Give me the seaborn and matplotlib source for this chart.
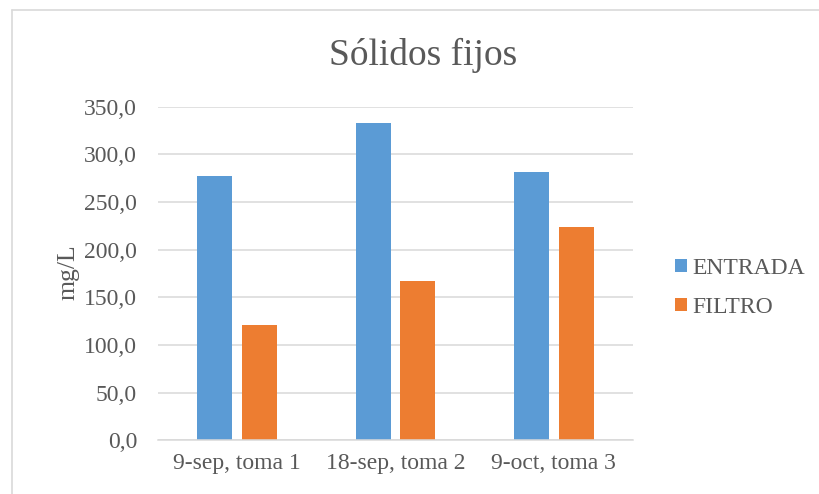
import matplotlib
matplotlib.use("Agg")
import matplotlib.pyplot as plt
from matplotlib.ticker import FuncFormatter
from matplotlib.lines import Line2D
import seaborn as sns
import pandas as pd

categories = ["9-sep, toma 1", "18-sep, toma 2", "9-oct, toma 3"]
series_names = ["ENTRADA", "FILTRO"]
entrada = [277.0, 332.6, 281.5]
filtro = [121.0, 167.1, 224.1]
colors = ["#5B9BD5", "#ED7D31"]
title = "Sólidos fijos"
ylabel = "mg/L"

df = pd.DataFrame({
    "cat": categories * 2,
    "serie": [series_names[0]] * 3 + [series_names[1]] * 3,
    "val": entrada + filtro,
})

sns.set_theme(style="white")
plt.rcParams["font.family"] = ["Liberation Serif", "DejaVu Serif"]
txt = "#595959"
grid = "#D9D9D9"

fig = plt.figure(figsize=(8.19, 4.94), dpi=100)
ax = fig.add_axes([158/819, 1-440.3/494, 475/819, 333.6/494])

sns.barplot(data=df, x="cat", y="val", hue="serie", palette=colors,
            saturation=1, width=0.5634, gap=0.215, linewidth=0, ax=ax,
            order=categories, hue_order=series_names)

ax.set_ylim(0, 350)
ax.set_xlim(-0.5, 2.5)
ax.set_yticks(range(0, 351, 50))
ax.yaxis.set_major_formatter(FuncFormatter(lambda v, p: f"{v:.1f}".replace(".", ",")))
ax.grid(axis="y", color=grid, linewidth=1.1)
ax.set_axisbelow(True)
for s in ["top", "right", "left"]:
    ax.spines[s].set_visible(False)
ax.spines["bottom"].set_color(grid)
ax.spines["bottom"].set_linewidth(1.1)
ax.tick_params(axis="both", length=0, labelsize=17, labelcolor=txt)
ax.tick_params(axis="y", pad=15)
ax.tick_params(axis="x", pad=9)
ax.set_xlabel("")
ax.set_ylabel(ylabel, fontsize=18.5, color=txt)
ax.yaxis.set_label_coords(-0.165, 0.505)

fig.text(423/819, 1-55/494, title, fontsize=27, color=txt, ha="center", va="center")

leg = ax.legend(loc="center left", bbox_to_anchor=(675/819, 1-288/494),
                bbox_transform=fig.transFigure, frameon=False, fontsize=17,
                handlelength=0.5, handleheight=0.5, handletextpad=0.25,
                labelspacing=0.75, borderpad=0, borderaxespad=0)
for t in leg.get_texts():
    t.set_color(txt)

fig.add_artist(Line2D([12/819, 12/819], [0, 1-10/494], color=grid, lw=1.2, transform=fig.transFigure))
fig.add_artist(Line2D([12/819, 1], [1-10/494, 1-10/494], color=grid, lw=1.2, transform=fig.transFigure))

fig.savefig("out.png", dpi=100)
